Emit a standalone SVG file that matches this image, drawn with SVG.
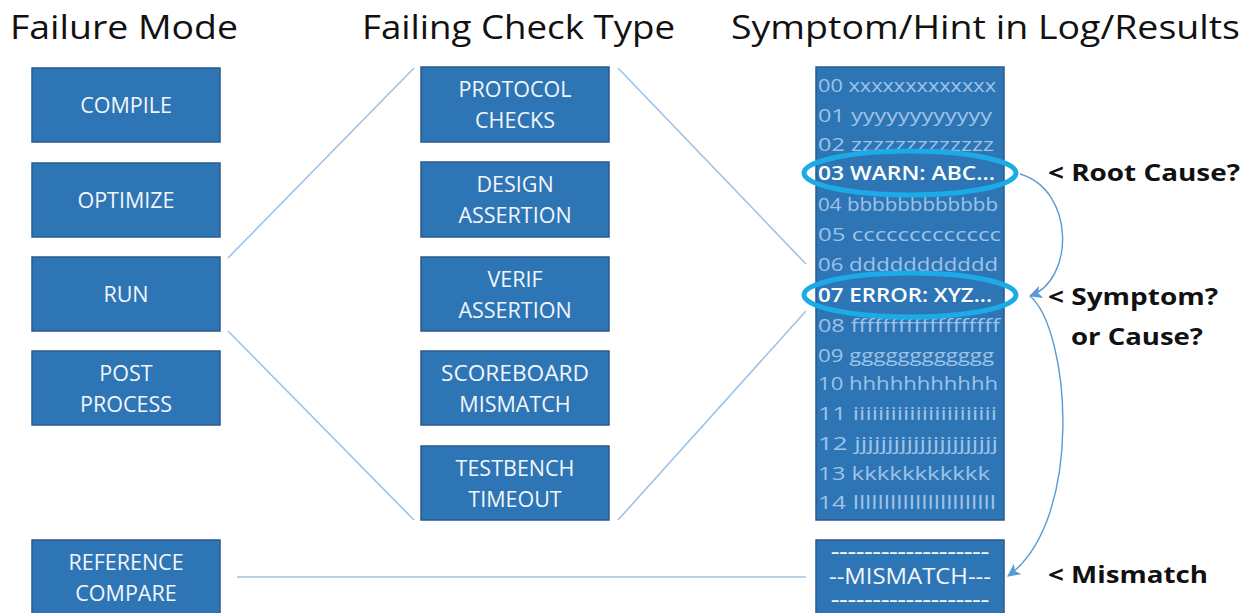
<svg xmlns="http://www.w3.org/2000/svg" width="1251" height="613" viewBox="0 0 1251 613">
  <style>
    .title { font-family: "Open Sans", "Liberation Sans", sans-serif; font-size: 32px; fill: #111; }
    .box { fill: #2e75b6; stroke: #2a5a8c; stroke-width: 1.5; }
    .lbl { font-family: "Open Sans", "Liberation Sans", sans-serif; font-size: 21.5px; fill: #f2f6fb; text-anchor: middle; }
    .rule { font-size: 14px; font-weight: 700; }
    .log { font-family: "Open Sans", "Liberation Sans", sans-serif; font-size: 19px; fill: #9dc3e6; }
    .hot { fill: #ffffff; font-weight: 600; }
    .note { font-family: "Open Sans", "Liberation Sans", sans-serif; font-size: 24px; font-weight: 700; fill: #111; }
    .link { stroke: #9dc3e6; stroke-width: 1.6; fill: none; }
    .arc { stroke: #5b9bd5; stroke-width: 1.4; fill: none; }
    .ring { stroke: #1cabe6; stroke-width: 5; fill: none; }
  </style>
  <defs>
    <marker id="arrow" viewBox="0 0 12 12" refX="11" refY="6" markerWidth="13" markerHeight="13" markerUnits="userSpaceOnUse" orient="auto">
      <path d="M0,0 L12,6 L0,12 L3,6 z" fill="#5b9bd5"/>
    </marker>
  </defs>

  <rect width="1251" height="613" fill="#ffffff"/>

  <!-- column headings -->
  <g id="headings">
    <text class="title" x="10" y="39" textLength="228" lengthAdjust="spacingAndGlyphs">Failure Mode</text>
    <text class="title" x="362" y="39" textLength="313" lengthAdjust="spacingAndGlyphs">Failing Check Type</text>
    <text class="title" x="731" y="39" textLength="509" lengthAdjust="spacingAndGlyphs">Symptom/Hint in Log/Results</text>
  </g>

  <!-- connectors -->
  <g id="connectors">
    <line class="link" x1="228" y1="258" x2="414" y2="68"/>
    <line class="link" x1="228" y1="331" x2="414" y2="520"/>
    <line class="link" x1="618" y1="68" x2="806" y2="264"/>
    <line class="link" x1="618" y1="520" x2="806" y2="311"/>
    <line class="link" x1="237" y1="577" x2="806" y2="577"/>
    <path class="arc" d="M1020,174 C1075,190 1075,280 1030,296" marker-end="url(#arrow)"/>
    <path class="arc" d="M1030,296 C1070,330 1085,520 1008,576" marker-end="url(#arrow)"/>
  </g>

  <!-- failure modes -->
  <g id="compile">
    <rect class="box" x="32" y="68" width="188" height="74"/>
    <text class="lbl" x="126" y="113">COMPILE</text>
  </g>
  <g id="optimize">
    <rect class="box" x="32" y="163" width="188" height="74"/>
    <text class="lbl" x="126" y="208">OPTIMIZE</text>
  </g>
  <g id="run">
    <rect class="box" x="32" y="257" width="188" height="74"/>
    <text class="lbl" x="126" y="302">RUN</text>
  </g>
  <g id="post-process">
    <rect class="box" x="32" y="351" width="188" height="74"/>
    <text class="lbl" x="126" y="381">POST</text>
    <text class="lbl" x="126" y="412">PROCESS</text>
  </g>
  <g id="reference-compare">
    <rect class="box" x="32" y="540" width="188" height="80"/>
    <text class="lbl" x="126" y="570">REFERENCE</text>
    <text class="lbl" x="126" y="601">COMPARE</text>
  </g>

  <!-- failing check types -->
  <g id="protocol-checks">
    <rect class="box" x="421" y="67" width="188" height="75"/>
    <text class="lbl" x="515" y="97">PROTOCOL</text>
    <text class="lbl" x="515" y="128">CHECKS</text>
  </g>
  <g id="design-assertion">
    <rect class="box" x="421" y="162" width="188" height="75"/>
    <text class="lbl" x="515" y="192">DESIGN</text>
    <text class="lbl" x="515" y="223">ASSERTION</text>
  </g>
  <g id="verif-assertion">
    <rect class="box" x="421" y="257" width="188" height="74"/>
    <text class="lbl" x="515" y="287">VERIF</text>
    <text class="lbl" x="515" y="318">ASSERTION</text>
  </g>
  <g id="scoreboard-mismatch">
    <rect class="box" x="421" y="351" width="188" height="74"/>
    <text class="lbl" x="515" y="381" textLength="148" lengthAdjust="spacingAndGlyphs">SCOREBOARD</text>
    <text class="lbl" x="515" y="412">MISMATCH</text>
  </g>
  <g id="testbench-timeout">
    <rect class="box" x="421" y="446" width="188" height="74"/>
    <text class="lbl" x="515" y="476">TESTBENCH</text>
    <text class="lbl" x="515" y="507">TIMEOUT</text>
  </g>

  <!-- log listing -->
  <g id="log">
    <rect class="box" x="816" y="67" width="188" height="453"/>
    <text class="log" x="818" y="92" textLength="178" lengthAdjust="spacingAndGlyphs">00 xxxxxxxxxxxxx</text>
    <text class="log" x="818" y="122" textLength="174" lengthAdjust="spacingAndGlyphs">01 yyyyyyyyyyyy</text>
    <text class="log" x="818" y="151" textLength="176" lengthAdjust="spacingAndGlyphs">02 zzzzzzzzzzzzz</text>
    <text class="log hot" x="818" y="180" textLength="177" lengthAdjust="spacingAndGlyphs">03 WARN: ABC...</text>
    <text class="log" x="818" y="211" textLength="180" lengthAdjust="spacingAndGlyphs">04 bbbbbbbbbbbb</text>
    <text class="log" x="818" y="241" textLength="183" lengthAdjust="spacingAndGlyphs">05 ccccccccccccc</text>
    <text class="log" x="818" y="271" textLength="180" lengthAdjust="spacingAndGlyphs">06 ddddddddddd</text>
    <text class="log hot" x="818" y="302" textLength="174" lengthAdjust="spacingAndGlyphs">07 ERROR: XYZ...</text>
    <text class="log" x="818" y="332" textLength="182" lengthAdjust="spacingAndGlyphs">08 fffffffffffffffffff</text>
    <text class="log" x="818" y="362" textLength="176" lengthAdjust="spacingAndGlyphs">09 gggggggggggg</text>
    <text class="log" x="818" y="390" textLength="180" lengthAdjust="spacingAndGlyphs">10 hhhhhhhhhhh</text>
    <text class="log" x="818" y="420" textLength="179" lengthAdjust="spacingAndGlyphs">11 iiiiiiiiiiiiiiiiiiiiiii</text>
    <text class="log" x="818" y="450" textLength="180" lengthAdjust="spacingAndGlyphs">12 jjjjjjjjjjjjjjjjjjjjjj</text>
    <text class="log" x="818" y="480" textLength="172" lengthAdjust="spacingAndGlyphs">13 kkkkkkkkkkk</text>
    <text class="log" x="818" y="509" textLength="178" lengthAdjust="spacingAndGlyphs">14 lllllllllllllllllllllll</text>
  </g>
  <g id="mismatch-result">
    <rect class="box" x="816" y="540" width="188" height="80"/>
    <text class="lbl rule" x="910" y="557" textLength="158" lengthAdjust="spacingAndGlyphs">-------------------</text>
    <text class="lbl" x="910" y="584" textLength="162" lengthAdjust="spacingAndGlyphs">--MISMATCH---</text>
    <text class="lbl rule" x="910" y="605" textLength="158" lengthAdjust="spacingAndGlyphs">-------------------</text>
  </g>

  <!-- highlighted lines -->
  <g id="highlights">
    <ellipse class="ring" cx="910" cy="173" rx="106" ry="22"/>
    <ellipse class="ring" cx="910" cy="295" rx="106" ry="22"/>
  </g>

  <!-- annotations -->
  <g id="annotations">
    <text class="note" x="1048" y="181" textLength="192" lengthAdjust="spacingAndGlyphs">&lt; Root Cause?</text>
    <text class="note" x="1048" y="305" textLength="170" lengthAdjust="spacingAndGlyphs">&lt; Symptom?</text>
    <text class="note" x="1071" y="345" textLength="132" lengthAdjust="spacingAndGlyphs">or Cause?</text>
    <text class="note" x="1048" y="583" textLength="160" lengthAdjust="spacingAndGlyphs">&lt; Mismatch</text>
  </g>
</svg>
